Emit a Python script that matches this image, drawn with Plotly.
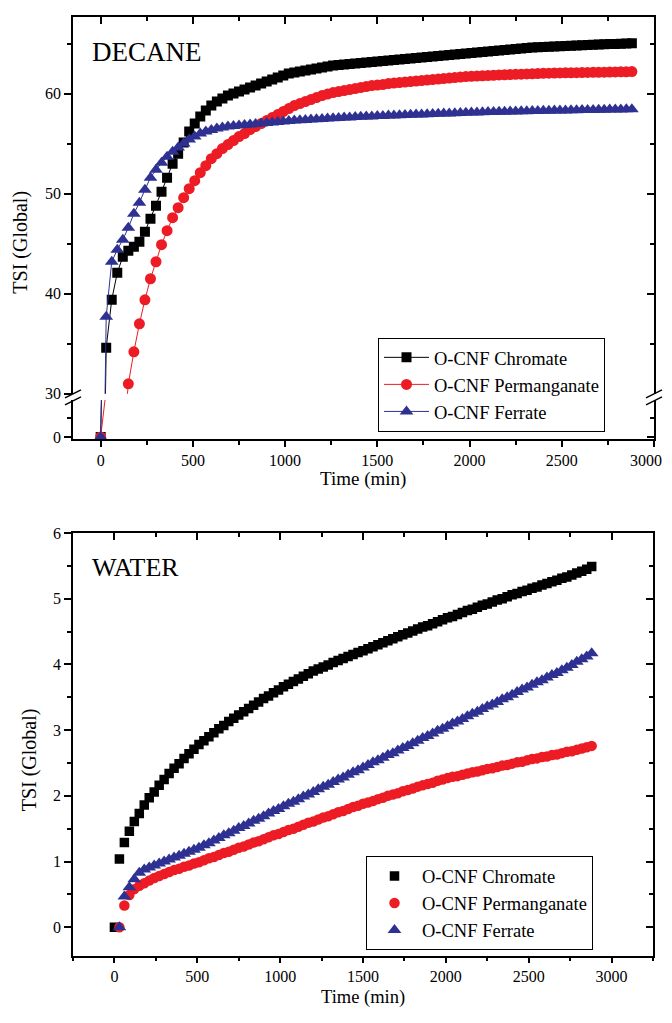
import plotly.graph_objects as go

FONT = "Liberation Serif"
BLACK = "#000000"
RED = "#ED1C24"
BLUE = "#2E3192"

# ---------------- DATA ----------------
TIME_TOP = [0, 30, 60, 90, 120, 150, 180, 210, 240, 270,
            300, 330, 360, 390, 420, 450, 480, 510, 540, 570,
            600, 630, 660, 690, 720, 750, 780, 810, 840, 870,
            900, 930, 960, 990, 1020, 1050, 1080, 1110, 1140, 1170,
            1200, 1230, 1260, 1290, 1320, 1350, 1380, 1410, 1440, 1470,
            1500, 1530, 1560, 1590, 1620, 1650, 1680, 1710, 1740, 1770,
            1800, 1830, 1860, 1890, 1920, 1950, 1980, 2010, 2040, 2070,
            2100, 2130, 2160, 2190, 2220, 2250, 2280, 2310, 2340, 2370,
            2400, 2430, 2460, 2490, 2520, 2550, 2580, 2610, 2640, 2670,
            2700, 2730, 2760, 2790, 2820, 2850, 2880]

TIME_TOP_PERM = [0, 150, 180, 210, 240, 270, 300, 330, 360, 390, 420,
                 450, 480, 510, 540, 570, 600, 630, 660, 690, 720,
                 750, 780, 810, 840, 870, 900, 930, 960, 990, 1020,
                 1050, 1080, 1110, 1140, 1170, 1200, 1230, 1260, 1290, 1320,
                 1350, 1380, 1410, 1440, 1470, 1500, 1530, 1560, 1590, 1620,
                 1650, 1680, 1710, 1740, 1770, 1800, 1830, 1860, 1890, 1920,
                 1950, 1980, 2010, 2040, 2070, 2100, 2130, 2160, 2190, 2220,
                 2250, 2280, 2310, 2340, 2370, 2400, 2430, 2460, 2490, 2520,
                 2550, 2580, 2610, 2640, 2670, 2700, 2730, 2760, 2790, 2820,
                 2850, 2880]

DECANE_CHROMATE = [0, 34.6, 39.4, 42.1, 43.7, 44.3, 44.7, 45.2, 46.2, 47.5,
                   48.8, 50.2, 51.6, 53.0, 54.0, 55.1, 56.2, 57.0, 57.7, 58.3,
                   58.8, 59.2, 59.5, 59.8, 60.0, 60.2, 60.4, 60.6, 60.8, 61.0,
                   61.2, 61.4, 61.6, 61.8, 62.0, 62.1, 62.2, 62.3, 62.4, 62.5,
                   62.6, 62.7, 62.8, 62.85, 62.9, 62.95, 63.0, 63.05, 63.1, 63.15,
                   63.2, 63.25, 63.3, 63.35, 63.4, 63.45, 63.5, 63.55, 63.6, 63.65,
                   63.7, 63.75, 63.8, 63.85, 63.9, 63.95, 64.0, 64.05, 64.1, 64.15,
                   64.2, 64.25, 64.3, 64.35, 64.4, 64.45, 64.5, 64.55, 64.6, 64.62,
                   64.65, 64.68, 64.7, 64.72, 64.75, 64.78, 64.8, 64.82, 64.85, 64.87,
                   64.9, 64.92, 64.94, 64.96, 64.98, 65.0, 65.02]

DECANE_PERMANGANATE = [0,
                       31.0, 34.2, 37.0, 39.4, 41.5, 43.2, 44.9, 46.3, 47.6, 48.6,
                       49.6, 50.5, 51.3, 52.1, 52.8, 53.5, 54.0, 54.5, 54.9, 55.3,
                       55.7, 56.0, 56.4, 56.7, 57.0, 57.3, 57.6, 57.9, 58.2, 58.5,
                       58.8, 59.0, 59.2, 59.4, 59.6, 59.8, 59.95, 60.1, 60.2, 60.3,
                       60.4, 60.5, 60.6, 60.7, 60.8, 60.85, 60.9, 61.0, 61.05, 61.1,
                       61.15, 61.2, 61.25, 61.3, 61.35, 61.4, 61.45, 61.5, 61.55, 61.6,
                       61.65, 61.7, 61.72, 61.75, 61.78, 61.8, 61.83, 61.86, 61.88, 61.9,
                       61.92, 61.94, 61.96, 61.98, 62.0, 62.02, 62.04, 62.05, 62.06, 62.07,
                       62.08, 62.09, 62.1, 62.11, 62.12, 62.13, 62.14, 62.15, 62.16, 62.17,
                       62.18, 62.2]

DECANE_FERRATE = [0, 37.7, 43.2, 44.4, 45.4, 46.6, 48.0, 49.1, 50.4, 51.6,
                  52.4, 53.1, 53.7, 54.2, 54.6, 55.0, 55.4, 55.7, 56.0, 56.2,
                  56.35, 56.5, 56.6, 56.7, 56.75, 56.8, 56.85, 56.9, 56.95, 57.0,
                  57.05, 57.1, 57.15, 57.2, 57.25, 57.3, 57.33, 57.36, 57.4, 57.43,
                  57.46, 57.5, 57.53, 57.56, 57.6, 57.62, 57.65, 57.68, 57.7, 57.72,
                  57.75, 57.77, 57.8, 57.82, 57.84, 57.86, 57.88, 57.9, 57.92, 57.94,
                  57.96, 57.98, 58.0, 58.02, 58.04, 58.06, 58.08, 58.1, 58.12, 58.13,
                  58.15, 58.16, 58.18, 58.19, 58.2, 58.22, 58.23, 58.24, 58.26, 58.27,
                  58.28, 58.29, 58.3, 58.31, 58.32, 58.33, 58.34, 58.35, 58.36, 58.37,
                  58.38, 58.39, 58.4, 58.41, 58.42, 58.43, 58.44]

TIME_WATER_CHROMATE = TIME_TOP

TIME_WATER_OTHER = [30, 60, 90, 120, 150, 180, 210, 240, 270, 300,
                    330, 360, 390, 420, 450, 480, 510, 540, 570, 600,
                    630, 660, 690, 720, 750, 780, 810, 840, 870, 900,
                    930, 960, 990, 1020, 1050, 1080, 1110, 1140, 1170, 1200,
                    1230, 1260, 1290, 1320, 1350, 1380, 1410, 1440, 1470, 1500,
                    1530, 1560, 1590, 1620, 1650, 1680, 1710, 1740, 1770, 1800,
                    1830, 1860, 1890, 1920, 1950, 1980, 2010, 2040, 2070, 2100,
                    2130, 2160, 2190, 2220, 2250, 2280, 2310, 2340, 2370, 2400,
                    2430, 2460, 2490, 2520, 2550, 2580, 2610, 2640, 2670, 2700,
                    2730, 2760, 2790, 2820, 2850, 2880]

WATER_CHROMATE = [0, 1.04, 1.29, 1.46, 1.61, 1.73, 1.86, 1.97, 2.06, 2.16,
                  2.25, 2.34, 2.42, 2.49, 2.57, 2.64, 2.71, 2.78, 2.84, 2.90,
                  2.96, 3.02, 3.07, 3.13, 3.18, 3.23, 3.28, 3.33, 3.38, 3.43,
                  3.48, 3.52, 3.57, 3.61, 3.66, 3.70, 3.74, 3.78, 3.82, 3.86,
                  3.90, 3.93, 3.96, 3.99, 4.03, 4.06, 4.09, 4.12, 4.15, 4.18,
                  4.21, 4.24, 4.27, 4.30, 4.33, 4.36, 4.39, 4.42, 4.45, 4.48,
                  4.51, 4.54, 4.57, 4.59, 4.62, 4.65, 4.68, 4.71, 4.73, 4.76,
                  4.79, 4.82, 4.84, 4.87, 4.90, 4.92, 4.95, 4.98, 5.00, 5.03,
                  5.06, 5.08, 5.11, 5.13, 5.16, 5.18, 5.21, 5.23, 5.26, 5.28,
                  5.31, 5.33, 5.36, 5.39, 5.42, 5.45, 5.49]

WATER_PERMANGANATE = [0.00, 0.33, 0.49, 0.58, 0.63, 0.67, 0.71, 0.75, 0.78, 0.81,
                      0.84, 0.87, 0.89, 0.92, 0.94, 0.97, 0.99, 1.02, 1.05, 1.07,
                      1.10, 1.13, 1.15, 1.18, 1.21, 1.23, 1.26, 1.29, 1.31, 1.34,
                      1.37, 1.40, 1.42, 1.45, 1.48, 1.50, 1.53, 1.56, 1.59, 1.61,
                      1.64, 1.67, 1.69, 1.72, 1.75, 1.77, 1.80, 1.83, 1.85, 1.88,
                      1.90, 1.92, 1.95, 1.97, 2.00, 2.02, 2.04, 2.07, 2.09, 2.11,
                      2.14, 2.16, 2.18, 2.20, 2.23, 2.25, 2.27, 2.29, 2.30, 2.32,
                      2.34, 2.36, 2.37, 2.39, 2.41, 2.42, 2.44, 2.46, 2.47, 2.49,
                      2.51, 2.52, 2.54, 2.56, 2.57, 2.59, 2.60, 2.62, 2.63, 2.65,
                      2.67, 2.68, 2.70, 2.72, 2.74, 2.76]

WATER_FERRATE = [0.00, 0.47, 0.61, 0.73, 0.83, 0.88, 0.91, 0.94, 0.97, 1.00,
                 1.03, 1.06, 1.09, 1.12, 1.15, 1.18, 1.21, 1.25, 1.28, 1.32,
                 1.36, 1.40, 1.43, 1.47, 1.51, 1.54, 1.58, 1.62, 1.65, 1.69,
                 1.73, 1.77, 1.80, 1.84, 1.88, 1.91, 1.95, 1.99, 2.02, 2.06,
                 2.10, 2.14, 2.17, 2.21, 2.25, 2.28, 2.32, 2.36, 2.39, 2.43,
                 2.47, 2.51, 2.54, 2.58, 2.62, 2.65, 2.69, 2.73, 2.76, 2.80,
                 2.84, 2.88, 2.91, 2.95, 2.99, 3.02, 3.06, 3.10, 3.13, 3.17,
                 3.21, 3.25, 3.28, 3.32, 3.36, 3.39, 3.43, 3.47, 3.50, 3.54,
                 3.58, 3.62, 3.65, 3.69, 3.73, 3.76, 3.80, 3.84, 3.87, 3.91,
                 3.95, 3.99, 4.04, 4.08, 4.12, 4.17]

SERIES_NAMES = ["O-CNF Chromate", "O-CNF Permanganate", "O-CNF Ferrate"]
X_TICKS = [0, 500, 1000, 1500, 2000, 2500, 3000]
X_TICK_TEXT_TOP = ["0", "500", "1000", "1500", "2000", "2500", ""]
TOP_Y_TICKS = [30, 40, 50, 60]

# ---------------- LAYOUT HELPERS ----------------
# The page keeps the browser's default 8px body margin, so the figure is 16px
# smaller than the window.  The photographed page also comes out slightly
# squeezed vertically (obs_y ~= 0.982 * page_y + 8.7); positions below are
# given in reference-window pixels and converted back through that mapping.
MARGIN = 8
W, H = 672 - 2 * MARGIN, 1023 - 2 * MARGIN
SY, OY = 0.982, 8.7


def px(x):
    """reference window pixel x -> paper fraction"""
    return (x - MARGIN) / W


def py(y):
    """reference window pixel y (from top) -> paper fraction (clamped)"""
    page_y = (y - OY) / SY
    v = 1 - (page_y - MARGIN) / H
    return max(0.0, min(0.999, v))


fig = go.Figure()

# --- top chart (broken axis: lower segment x/y, upper segment x2/y2)
top_series = [
    (TIME_TOP, DECANE_CHROMATE, BLACK, "square", 10),
    (TIME_TOP_PERM, DECANE_PERMANGANATE, RED, "circle", 11),
    (TIME_TOP, DECANE_FERRATE, BLUE, "triangle-up", 12),
]
for i, (t, v, c, sym, sz) in enumerate(top_series):
    common = dict(x=t, y=v, mode="lines+markers",
                  line=dict(color=c, width=1),
                  marker=dict(symbol=sym, size=sz, color=c, line=dict(width=0)),
                  hoverinfo="skip")
    fig.add_trace(go.Scatter(**common, xaxis="x", yaxis="y", showlegend=False))
    fig.add_trace(go.Scatter(**common, xaxis="x2", yaxis="y2", name=SERIES_NAMES[i],
                             legend="legend", legendrank=i + 1))

# --- bottom chart
bottom_series = [
    (TIME_WATER_CHROMATE, WATER_CHROMATE, BLACK, "square", 9.5),
    (TIME_WATER_OTHER, WATER_PERMANGANATE, RED, "circle", 10.5),
    (TIME_WATER_OTHER, WATER_FERRATE, BLUE, "triangle-up", 12),
]
for i, (t, v, c, sym, sz) in enumerate(bottom_series):
    fig.add_trace(go.Scatter(x=t, y=v, mode="markers", name=SERIES_NAMES[i],
                             marker=dict(symbol=sym, size=sz, color=c, line=dict(width=0)),
                             xaxis="x3", yaxis="y3", legend="legend2", legendrank=i + 1,
                             hoverinfo="skip"))

# empty traces to activate mirror (inside-tick) axes
for xa, ya in [("x", "y6"), ("x2", "y5"), ("x4", "y3"), ("x3", "y4")]:
    fig.add_trace(go.Scatter(x=[None], y=[None], xaxis=xa, yaxis=ya,
                             showlegend=False, hoverinfo="skip"))

AX = dict(showline=True, linecolor="black", linewidth=1.5, showgrid=False,
          zeroline=False, ticks="outside", ticklen=7, tickwidth=1.5, tickcolor="black")
MIN_OUT = dict(ticks="outside", ticklen=4, tickwidth=1.5, tickcolor="black", showgrid=False)
MIN_IN = dict(ticks="inside", ticklen=4, tickwidth=1.5, tickcolor="black", showgrid=False)

XD1 = [px(73), px(654)]
XD2 = [px(73), px(653)]
YL = [py(439.5), py(400)]
YU = [py(394), py(13)]
YB = [py(955), py(533)]

TOP_X_RANGE = [-150, 3000]
LOW_Y_RANGE = [-0.33, 4.87]
UP_Y_RANGE = [30, 67.65]
BOT_X_RANGE = [-250, 3250]
BOT_Y_RANGE = [-0.43, 6]

tf_top = dict(family=FONT, size=16, color="black")
tf_bot = dict(family=FONT, size=16, color="black")

fig.update_layout(
    width=W, height=H, autosize=False, margin=dict(l=0, r=0, t=0, b=0, pad=0),
    paper_bgcolor="white", plot_bgcolor="white",
    font=dict(family=FONT, color="black"),
    xaxis=dict(**{**AX, "ticklen": 6}, domain=XD1, anchor="y", range=TOP_X_RANGE,
               tickmode="array", tickvals=X_TICKS, ticktext=X_TICK_TEXT_TOP, tickfont=tf_top,
               minor=dict(**MIN_OUT, tick0=0, dtick=250)),
    yaxis=dict(**AX, domain=YL, anchor="x", range=LOW_Y_RANGE,
               tickmode="array", tickvals=[0], ticktext=["0"], tickfont=tf_top,
               minor=dict(**MIN_OUT, tickmode="array", tickvals=[2.5])),
    xaxis2=dict(**{**AX, "ticks": "inside"}, domain=XD1, anchor="y2", range=TOP_X_RANGE,
                side="top", showticklabels=False, tickmode="array", tickvals=X_TICKS,
                minor=dict(**MIN_IN, tick0=0, dtick=250)),
    yaxis2=dict(**AX, domain=YU, anchor="x2", range=UP_Y_RANGE,
                tickmode="array", tickvals=TOP_Y_TICKS, tickfont=tf_top,
                minor=dict(**MIN_OUT, tick0=0, dtick=5)),
    yaxis5=dict(**{**AX, "ticks": "inside"}, overlaying="y2", side="right", anchor="x2",
                range=UP_Y_RANGE, showticklabels=False, tickmode="array", tickvals=TOP_Y_TICKS,
                minor=dict(**MIN_IN, tick0=0, dtick=5)),
    yaxis6=dict(**{**AX, "ticks": "inside"}, overlaying="y", side="right", anchor="x",
                range=LOW_Y_RANGE, showticklabels=False, tickmode="array", tickvals=[0],
                minor=dict(**MIN_IN, tickmode="array", tickvals=[2.5])),
    xaxis3=dict(**{**AX, "ticklen": 6}, domain=XD2, anchor="y3", range=BOT_X_RANGE,
                tickmode="array", tickvals=X_TICKS, tickfont=tf_bot,
                minor=dict(**MIN_OUT, tick0=0, dtick=250)),
    yaxis3=dict(**AX, domain=YB, anchor="x3", range=BOT_Y_RANGE,
                tick0=0, dtick=1, tickfont=tf_bot,
                minor=dict(**MIN_OUT, tick0=0, dtick=0.5)),
    xaxis4=dict(**{**AX, "ticks": "inside"}, overlaying="x3", side="top", anchor="y3",
                range=BOT_X_RANGE, showticklabels=False, tickmode="array", tickvals=X_TICKS,
                minor=dict(**MIN_IN, tick0=0, dtick=250)),
    yaxis4=dict(**{**AX, "ticks": "inside"}, overlaying="y3", side="right", anchor="x3",
                range=BOT_Y_RANGE, showticklabels=False, tick0=0, dtick=1,
                minor=dict(**MIN_IN, tick0=0, dtick=0.5)),
    legend=dict(x=px(378), y=py(338), xanchor="left", yanchor="top",
                bgcolor="white", bordercolor="black", borderwidth=1,
                font=dict(family=FONT, size=18.5, color="black"),
                itemwidth=45, tracegroupgap=0),
    legend2=dict(x=px(366), y=py(856), xanchor="left", yanchor="top",
                 bgcolor="white", bordercolor="black", borderwidth=1,
                 font=dict(family=FONT, size=18.5, color="black"),
                 itemwidth=45, tracegroupgap=0),
    showlegend=True,
)

# text labels
ann = [
    dict(text="DECANE", x=px(90), y=py(53), xanchor="left", yanchor="middle",
         font=dict(family=FONT, size=27, color="black")),
    dict(text="WATER", x=px(90), y=py(567), xanchor="left", yanchor="middle",
         font=dict(family=FONT, size=26, color="black")),
    dict(text="TSI (Global)", x=px(21), y=py(243), textangle=-90,
         xanchor="center", yanchor="middle", font=dict(family=FONT, size=20, color="black")),
    dict(text="TSI (Global)", x=px(29), y=py(760), textangle=-90,
         xanchor="center", yanchor="middle", font=dict(family=FONT, size=20, color="black")),
    dict(text="Time (min)", x=px(363), y=py(479), xanchor="center", yanchor="middle",
         font=dict(family=FONT, size=19, color="black")),
    dict(text="Time (min)", x=px(363), y=py(997), xanchor="center", yanchor="middle",
         font=dict(family=FONT, size=18.5, color="black")),
    # last tick label of the top x axis, kept inside the figure edge
    dict(text="3000", x=1.0, y=py(461), xanchor="right", yanchor="middle",
         font=tf_top),
]
for a in ann:
    fig.add_annotation(xref="paper", yref="paper", showarrow=False, **a)

# axis-break marks ("//") on left and right axes of top chart
for ax_x in (73, 654):
    for dy in (0, 7):
        fig.add_shape(type="line", xref="paper", yref="paper",
                      x0=px(ax_x - 8), y0=py(398 + dy), x1=px(ax_x + 8), y1=py(390 + dy),
                      line=dict(color="black", width=1.5))

fig.write_html(
    "out.html",
    config={"responsive": False, "displayModeBar": False},
    default_width=f"{W}px",
    default_height=f"{H}px",
)
